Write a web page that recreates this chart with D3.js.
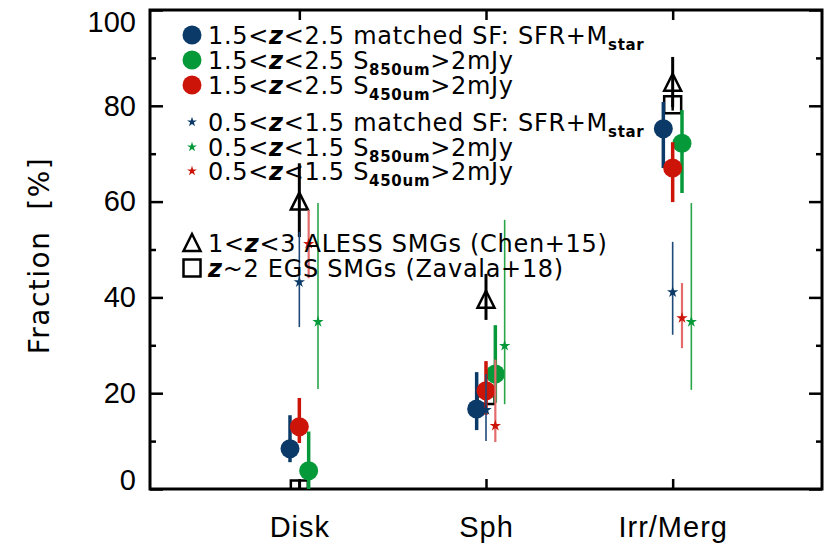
<!DOCTYPE html>
<html>
<head>
<meta charset="utf-8">
<script src="https://cdn.jsdelivr.net/npm/d3@7"></script>
<style>
  body { margin: 0; background: #fff; }
  svg { font-family: "DejaVu Sans", sans-serif; }
</style>
</head>
<body>
<script>
// categories on the x axis
var categories = ["Disk", "Sph", "Irr/Merg"];
var yTicks = [0, 20, 40, 60, 80, 100];

// 1.5<z<2.5 samples (filled circles): value, low, high
var sfHigh      = [8.4, 16.7, 75.2],  sfHighLo   = [5.6, 12.3, 67.0],  sfHighHi   = [15.4, 24.4, 80.8];
var s850High    = [3.8, 24.0, 72.2],  s850HighLo = [0.0, 18.0, 61.8],  s850HighHi = [12.0, 34.2, 79.1];
var s450High    = [13.0, 20.5, 67.0], s450HighLo = [9.6, 15.5, 59.9],  s450HighHi = [19.0, 26.7, 72.4];

// 0.5<z<1.5 samples (stars)
var sfLow       = [43.2, 16.5, 41.1], sfLowLo    = [33.8, 10.0, 32.2], sfLowHi    = [53.7, 24.0, 51.6];
var s850Low     = [34.9, 29.9, 34.9], s850LowLo  = [20.9, 17.7, 20.7], s850LowHi  = [59.7, 56.2, 59.7];
var s450Low     = [51.2, 13.2, 35.7], s450LowLo  = [44.0, 9.8, 29.4],  s450LowHi  = [58.2, 27.0, 43.0];

// literature SMGs
var aless       = [60.0, 39.5, 84.8], alessLo    = [52.6, 35.3, 79.7], alessHi    = [68.0, 44.9, 90.2];
var zavala      = [0.0, 19.5, 80.2],  zavalaLo   = [0.0, 18.0, 79.0],  zavalaHi   = [2.0, 21.0, 81.5];

var width = 830, height = 553,
    margin = {top: 10, right: 8, bottom: 64, left: 150},
    iwidth = width - margin.left - margin.right,
    iheight = height - margin.top - margin.bottom;

var navy = "#0b3a68", green = "#05993a", red = "#cc1408";

var x = d3.scaleLinear().domain([0.2, 3.8]).range([0, iwidth]);
var y = d3.scaleLinear().domain([0, 100]).range([iheight, 0]);

var svg = d3.select("body").append("svg")
    .attr("width", width)
    .attr("height", height);

var g = svg.append("g")
    .attr("transform", "translate(" + margin.left + "," + margin.top + ")");

g.append("clipPath").attr("id", "plotclip")
  .append("rect").attr("width", iwidth).attr("height", iheight);

// axes (ticks point inward, like the original)
var yAxis = g.append("g")
    .call(d3.axisLeft(y).tickValues(yTicks).tickSize(-13).tickPadding(14));
g.append("g")
    .call(d3.axisLeft(y).tickValues([10, 30, 50, 70, 90]).tickSize(-6).tickFormat(""));
g.append("g").attr("transform", "translate(" + iwidth + ",0)")
    .call(d3.axisRight(y).tickValues(yTicks).tickSize(-13).tickFormat(""));
g.append("g").attr("transform", "translate(" + iwidth + ",0)")
    .call(d3.axisRight(y).tickValues([10, 30, 50, 70, 90]).tickSize(-6).tickFormat(""));
g.append("g").attr("transform", "translate(0," + iheight + ")")
    .call(d3.axisBottom(x).tickValues([1, 2, 3]).tickSize(-10).tickPadding(27)
      .tickFormat(function(d) { return categories[d - 1]; }))
    .attr("class", "xaxis");
g.append("g")
    .call(d3.axisTop(x).tickValues([1, 2, 3]).tickSize(-10).tickFormat(""));

g.selectAll(".domain").remove();
g.selectAll(".tick line").attr("stroke", "#000").attr("stroke-width", 2.5);
g.selectAll(".tick text").attr("fill", "#000").style("font-size", "29px");
g.select(".xaxis").selectAll("text").style("font-size", "29px").attr("letter-spacing", "1px");
yAxis.selectAll(".tick text").attr("dy", function(d) {
  if (d === 0) return "0.0em";
  if (d === 100) return "0.75em";
  return "0.32em";
});

g.append("rect")
    .attr("width", iwidth).attr("height", iheight)
    .attr("fill", "none").attr("stroke", "#000").attr("stroke-width", 3);

svg.append("text")
    .attr("transform", "translate(49," + (margin.top + iheight / 2 + 6) + ") rotate(-90)")
    .attr("text-anchor", "middle")
    .attr("letter-spacing", "1.5px")
    .attr("xml:space", "preserve")
    .style("font-size", "28px")
    .text("Fraction  [%]");

// build series
function rows(vals, lo, hi, dx) {
  return vals.map(function(v, i) { return {x: i + 1 + dx, v: v, lo: lo[i], hi: hi[i]}; });
}

var plot = g.append("g").attr("clip-path", "url(#plotclip)");

function bars(data, color, w) {
  plot.append("g").selectAll("line").data(data).enter().append("line")
    .attr("x1", function(d) { return x(d.x); })
    .attr("x2", function(d) { return x(d.x); })
    .attr("y1", function(d) { return y(d.lo); })
    .attr("y2", function(d) { return y(d.hi); })
    .attr("stroke", color).attr("stroke-width", w);
}

var triPath = "M0,-9L8.5,8L-8.5,8Z";
var sqPath = "M-8.5,-8.5H8.5V8.5H-8.5Z";
var starPath = d3.symbol().type(d3.symbolStar).size(40)();

function marks(data, path, fill, stroke) {
  plot.append("g").selectAll("path").data(data).enter().append("path")
    .attr("transform", function(d) { return "translate(" + x(d.x) + "," + y(d.v) + ")"; })
    .attr("d", path)
    .attr("fill", fill)
    .attr("stroke", stroke || "none")
    .attr("stroke-width", 2.5);
}

function dots(data, color) {
  plot.append("g").selectAll("circle").data(data).enter().append("circle")
    .attr("cx", function(d) { return x(d.x); })
    .attr("cy", function(d) { return y(d.v); })
    .attr("r", 9.5)
    .attr("fill", color);
}

var dOff = 0.05;

// literature first
var zav = rows(zavala, zavalaLo, zavalaHi, 0);
var ale = rows(aless, alessLo, alessHi, 0);
bars(zav, "#000", 2.5);
marks(zav, sqPath, "none", "#000");
bars(ale, "#000", 3);
marks(ale, triPath, "none", "#000");

// circles
var c1 = rows(sfHigh, sfHighLo, sfHighHi, -dOff),
    c2 = rows(s850High, s850HighLo, s850HighHi, dOff),
    c3 = rows(s450High, s450HighLo, s450HighHi, 0);
bars(c1, navy, 3.5); dots(c1, navy);
bars(c2, green, 3.5); dots(c2, green);
bars(c3, red, 3.5); dots(c3, red);

// stars
var s1 = rows(sfLow, sfLowLo, sfLowHi, 0),
    s2 = rows(s850Low, s850LowLo, s850LowHi, 2 * dOff),
    s3 = rows(s450Low, s450LowLo, s450LowHi, dOff);
bars(s1, "#1d4a78", 1.6); marks(s1, starPath, navy);
bars(s2, "#2aa64a", 1.6); marks(s2, starPath, green);
bars(s3, "#e36b6b", 2.2); marks(s3, starPath, red);

// legend
var legendItems = [
  {y: 35,  sym: "dot",  color: navy,  z: ["1.5<", "<2.5 matched SF: SFR+M"], sub: "star", tail: ""},
  {y: 60,  sym: "dot",  color: green, z: ["1.5<", "<2.5 S"], sub: "850um", tail: ">2mJy"},
  {y: 85,  sym: "dot",  color: red,   z: ["1.5<", "<2.5 S"], sub: "450um", tail: ">2mJy"},
  {y: 122, sym: "star", color: navy,  z: ["0.5<", "<1.5 matched SF: SFR+M"], sub: "star", tail: ""},
  {y: 147, sym: "star", color: green, z: ["0.5<", "<1.5 S"], sub: "850um", tail: ">2mJy"},
  {y: 171, sym: "star", color: red,   z: ["0.5<", "<1.5 S"], sub: "450um", tail: ">2mJy"},
  {y: 243, sym: "tri",  color: "#000", z: ["1<", "<3 ALESS SMGs (Chen+15)"], sub: "", tail: ""},
  {y: 268, sym: "sq",   color: "#000", z: ["", "~2 EGS SMGs (Zavala+18)"], sub: "", tail: ""}
];

var leg = svg.append("g");
legendItems.forEach(function(it) {
  var sx = 192;
  if (it.sym === "dot") {
    leg.append("circle").attr("cx", sx).attr("cy", it.y).attr("r", 9.5).attr("fill", it.color);
  } else if (it.sym === "star") {
    leg.append("path").attr("transform", "translate(" + sx + "," + it.y + ")")
      .attr("d", d3.symbol().type(d3.symbolStar).size(30)()).attr("fill", it.color);
  } else {
    leg.append("path").attr("transform", "translate(" + sx + "," + it.y + ")")
      .attr("d", it.sym === "tri" ? triPath : sqPath)
      .attr("fill", "none").attr("stroke", "#000").attr("stroke-width", 2.5);
  }
  var t = leg.append("text")
    .attr("x", 208).attr("y", it.y + 8.5)
    .attr("xml:space", "preserve")
    .attr("letter-spacing", "0.7px")
    .style("font-size", "24px");
  t.append("tspan").text(it.z[0]);
  t.append("tspan").style("font-style", "italic").style("font-weight", "bold").text("z");
  t.append("tspan").text(it.z[1]);
  if (it.sub) {
    t.append("tspan").attr("dy", 6).style("font-size", "15px").style("font-weight", "bold").text(it.sub);
    t.append("tspan").attr("dy", -6).text(it.tail);
  }
});
</script>
</body>
</html>
